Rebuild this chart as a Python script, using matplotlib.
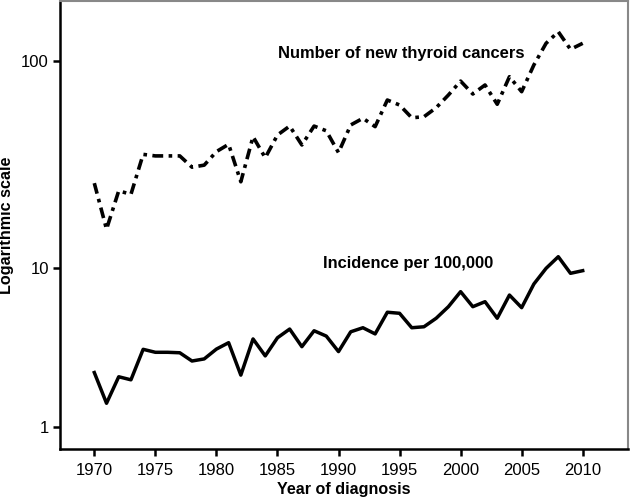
import numpy as np
import matplotlib
matplotlib.use("Agg")
import matplotlib.pyplot as plt
from matplotlib.ticker import FixedLocator, FixedFormatter, NullLocator

plt.rcParams['font.family'] = ['Liberation Sans', 'DejaVu Sans']

# ---- data ----
years = list(range(1970, 2011))

new_cancers = [25.7, 15.4, 23.6, 22.7, 35.4, 34.8, 34.8, 34.8, 30.7, 31.4,
               36.5, 39.6, 26.1, 43.1, 34.1, 43.9, 48.5, 39.3, 48.5, 46.0,
               36.1, 49.1, 52.9, 48.2, 64.8, 61.3, 53.2, 53.8, 59.5, 68.5,
               80.0, 69.3, 76.6, 61.8, 84.0, 71.1, 95.7, 121.8, 138.5, 113.9,
               121.8]

incidence = [2.20, 1.41, 2.07, 1.98, 3.08, 2.95, 2.95, 2.93, 2.60, 2.68,
             3.09, 3.39, 2.12, 3.58, 2.80, 3.64, 4.13, 3.20, 4.03, 3.73,
             2.98, 3.97, 4.21, 3.85, 5.27, 5.19, 4.21, 4.27, 4.83, 5.71,
             7.10, 5.71, 6.14, 4.83, 6.76, 5.63, 7.93, 9.95, 11.34, 9.26,
             9.62]

y_ticks = [1, 10, 100]
x_ticks = list(range(1970, 2011, 5))

# the printed axis uses a wider decade above 10 than below it
LOW, HIGH = 159.0, 207.0


def fwd(v):
    l = np.log10(np.clip(np.asarray(v, dtype=float), 1e-6, None))
    return np.where(l <= 1, l * LOW, LOW + (l - 1) * HIGH)


def inv(u):
    u = np.asarray(u, dtype=float)
    return np.where(u <= LOW, 10 ** (u / LOW), 10 ** (1 + (u - LOW) / HIGH))


fig = plt.figure(figsize=(6.31, 5.0), dpi=100)
ax = fig.add_axes([60 / 631, 51 / 500, 568 / 631, 448 / 500])

ax.plot(years, new_cancers, color='black', lw=2.6,
        linestyle=(0, (3.0, 1.5, 1.0, 1.5)), dash_capstyle='butt')
ax.plot(years, incidence, color='black', lw=2.5)

ax.set_yscale('function', functions=(fwd, inv))
ax.set_ylim(0.727, 195)
ax.set_xlim(1967.19, 2013.71)

ax.yaxis.set_major_locator(FixedLocator(y_ticks))
ax.yaxis.set_major_formatter(FixedFormatter([str(t) for t in y_ticks]))
ax.yaxis.set_minor_locator(NullLocator())
ax.set_xticks(x_ticks)

ax.tick_params(axis='both', direction='out', length=5, width=1.8,
               labelsize=12, color='black')
ax.tick_params(axis='x', pad=5)
ax.tick_params(axis='y', pad=3)

for s in ['left', 'bottom']:
    ax.spines[s].set_linewidth(1.8)
    ax.spines[s].set_color('black')
for s in ['top', 'right']:
    ax.spines[s].set_linewidth(1.5)
    ax.spines[s].set_color('#888888')

ax.set_xlabel('Year of diagnosis', fontsize=11.6, fontweight='bold', labelpad=3)
ax.set_ylabel('Logarithmic scale', fontsize=11.6, fontweight='bold', labelpad=5)

ax.text(1985.05, 109.3, 'Number of new thyroid cancers', fontsize=11.9,
        fontweight='bold', ha='left', va='center')
ax.text(1988.75, 10.5, 'Incidence per 100,000', fontsize=11.9,
        fontweight='bold', ha='left', va='center')

fig.savefig('out.png', dpi=100)
